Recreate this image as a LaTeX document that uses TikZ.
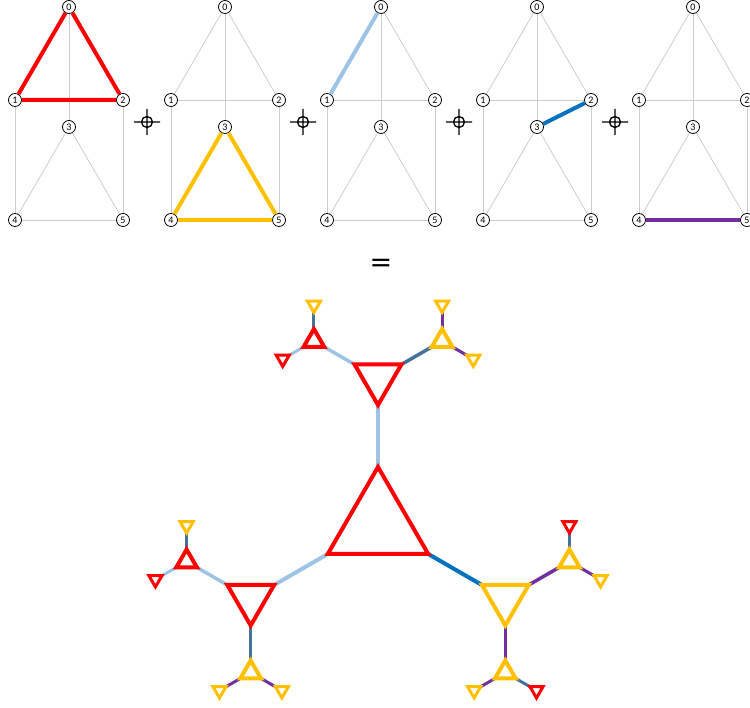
\documentclass[tikz,border=0pt]{standalone}
\usepackage{fontspec}
\setmainfont{Carlito}
\newfontfamily\eqfont{DejaVu Sans}
\usetikzlibrary{shapes.geometric,calc,backgrounds}

\definecolor{tRed}{RGB}{255,0,0}
\definecolor{tYellow}{RGB}{255,192,0}
\definecolor{tLightBlue}{RGB}{157,195,230}
\definecolor{tBlue}{RGB}{0,112,192}
\definecolor{tSteel}{RGB}{68,114,156}
\definecolor{tPurple}{RGB}{112,48,160}
\definecolor{tGray}{RGB}{205,205,205}

\begin{document}
\begin{tikzpicture}[x=1pt,y=1pt,
  vtx/.style={circle,draw,fill=white,minimum size=13,inner sep=0,line width=0.8,font=\fontsize{10}{10}\selectfont},
  grayedge/.style={draw=tGray,line width=0.8},
  hot/.style={line width=4},
  opmark/.style={line width=1.3},
  tri/.style={regular polygon,regular polygon sides=3,draw,inner sep=0,outer sep=0,line width=4},
  down/.style={shape border rotate=180},
  link/.style={line width=4}]

\path[use as bounding box] (0,0) rectangle (750,708);

% Top row: the five copies of the prism graph
\foreach \k in {0,...,4} {
\begin{scope}[xshift=156*\k]
\node[vtx] (p\k-0) at (69,701) {0};
\node[vtx] (p\k-1) at (15,608) {1};
\node[vtx] (p\k-2) at (123,608) {2};
\node[vtx] (p\k-3) at (69,581) {3};
\node[vtx] (p\k-4) at (15,488) {4};
\node[vtx] (p\k-5) at (123,488) {5};
\foreach \a/\b in {0/1,0/2,1/2,0/3,1/4,2/5,3/4,3/5,4/5}
   \draw[grayedge] (p\k-\a) -- (p\k-\b);
\end{scope}
}

% Highlighted edges
\draw[hot,tRed] (p0-0) -- (p0-1) (p0-1) -- (p0-2) (p0-2) -- (p0-0);
\draw[hot,tYellow] (p1-3) -- (p1-4) (p1-4) -- (p1-5) (p1-5) -- (p1-3);
\draw[hot,tLightBlue] (p2-0) -- (p2-1);
\draw[hot,tBlue] (p3-3) -- (p3-2);
\draw[hot,tPurple] (p4-4) -- (p4-5);

% Product signs
\foreach \k in {0,...,3}
   \draw[opmark] ({147+156*\k},586) circle[radius=5.5] +(-13,0) -- +(13,0) +(0,-13) -- +(0,13);

\node[anchor=base,inner sep=0] (eq) at (381,436) {\fontsize{27}{27}\eqfont =};

% Level 0
\node[tri,draw=tRed,minimum size=116] (t) at (378,183) {};

% Level 1
\foreach \n/\c/\a/\col/\lnk in {tA/1/90/tRed/tLightBlue, tB/2/210/tRed/tLightBlue, tC/3/330/tYellow/tBlue} {
   \node[tri,down,draw=\col,minimum size=54] (\n) at ($(t)+(\a:147)$) {};
   \begin{pgfonlayer}{background}
   \draw[link,\lnk] (t.corner \c) -- (\n.corner \c);
   \end{pgfonlayer}
}

% Level 2
\foreach \p/\c/\a/\col/\lnk in {tA/3/150/tRed/tLightBlue, tA/2/30/tYellow/tSteel,
                                tB/3/150/tRed/tLightBlue, tB/1/270/tYellow/tSteel,
                                tC/2/30/tYellow/tPurple, tC/1/270/tYellow/tPurple} {
   \node[tri,draw=\col,minimum size=24] (\p\c) at ($(\p)+(\a:74)$) {};
   \begin{pgfonlayer}{background}
   \draw[link,\lnk,line width=3.5] (\p.corner \c) -- (\p\c.corner \c);
   \end{pgfonlayer}
}

% Level 3
\foreach \p/\c/\a/\col/\lnk in {tA3/1/90/tYellow/tSteel, tA3/2/210/tRed/tLightBlue,
                                tA2/1/90/tYellow/tPurple, tA2/3/330/tYellow/tPurple,
                                tB3/1/90/tYellow/tSteel, tB3/2/210/tRed/tLightBlue,
                                tB1/2/210/tYellow/tPurple, tB1/3/330/tYellow/tPurple,
                                tC2/1/90/tRed/tSteel, tC2/3/330/tYellow/tPurple,
                                tC1/2/210/tYellow/tPurple, tC1/3/330/tRed/tSteel} {
   \node[tri,down,draw=\col,minimum size=15,line width=3] (\p\c) at ($(\p)+(\a:36)$) {};
   \begin{pgfonlayer}{background}
   \draw[link,\lnk,line width=3] (\p.corner \c) -- (\p\c.corner \c);
   \end{pgfonlayer}
}
\end{tikzpicture}
\end{document}
